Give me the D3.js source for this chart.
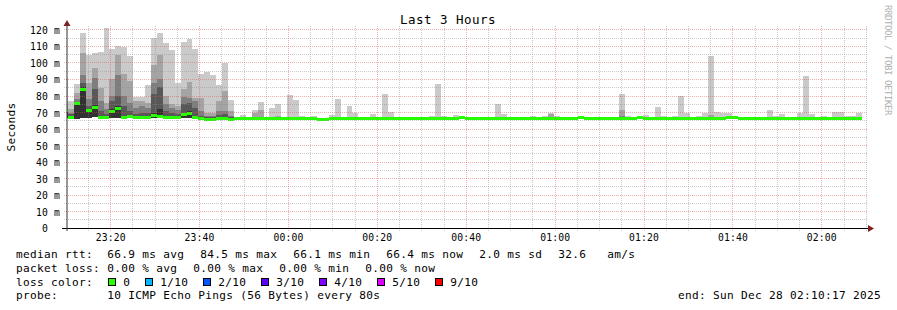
<!DOCTYPE html>
<html><head><meta charset="utf-8">
<script src="https://cdn.jsdelivr.net/npm/d3@7"></script>
<style>
html,body{margin:0;padding:0;background:#fff;}
svg{display:block;}
text{font-family:"DejaVu Sans Mono",monospace;fill:#000;white-space:pre;}
</style></head><body>
<svg id="chart" width="897" height="310"></svg>
<script>
const N = null;
const chartTitle = "Last 3 Hours";
const unitLabel = "Seconds";
const watermark = "RRDTOOL / TOBI OETIKER";
const yTickValues = [0,10,20,30,40,50,60,70,80,90,100,110,120];
const rangeStart = new Date(2025, 11, 27, 23, 10, 17);
const rangeEnd = new Date(2025, 11, 28, 2, 10, 17);
const firstStepStart = new Date(2025, 11, 27, 23, 9, 10, 500);
const stepSeconds = 80;

// median rtt per 80 s step (ms)
const medianRtt = [
71.5, 67, 75.5, 84.5, 71.5, 73.5, 67, 67, 71, 72.5,
67.5, 68, 67, 67, 67.3, 68.5, 68, 67.3, 67.3, 67,
69, 70, 67.3, 66.5, 66.3, 66.3, 66.5, 66.8, 66.3, 66.4,
66.4, 66.4, 66.5, 66.5, 66.4, 66.4, 66.5, 66.4, 66.4, 66.4,
66.4, 66.4, 66.4, 66.1, 66.3, 66.4, 66.4, 66.4, 66.4, 66.4,
66.5, 66.4, 66.4, 66.4, 66.4, 66.4, 66.4, 66.4, 66.4, 66.4,
66.4, 66.4, 66.4, 66.4, 66.4, 66.4, 66.6, 67, 66.6, 66.4,
66.4, 66.4, 66.4, 66.4, 66.4, 66.4, 66.4, 66.4, 66.4, 66.4,
66.4, 66.4, 66.6, 66.5, 66.4, 66.4, 66.4, 67.5, 66.4, 66.4,
66.4, 66.4, 66.4, 66.4, 66.5, 66.4, 66.4, 67.2, 66.5, 66.4,
66.4, 66.4, 66.4, 66.4, 66.4, 66.4, 66.4, 66.4, 66.4, 66.8,
66.5, 66.5, 67.5, 67, 66.6, 66.4, 66.4, 66.4, 66.4, 66.4,
66.4, 66.4, 66.4, 66.4, 66.4, 66.4, 66.4, 66.4, 66.4, 66.4,
66.4, 66.4, 66.4, 66.4, 66.4
];
// slowest ping per step
const maxRtt = [
91, 77, 87, 118, 105, 106, 106.5, 121, 108.5, 110.5,
109.5, 104.5, 79.5, 79.5, 86.5, 115, 118, 112, 108, 88,
112.5, 114.5, 108.5, 93.5, 94.5, 92.5, 86.5, 100, 77.5, 66.9,
68.5, 66.9, 71.5, 76.4, 66.9, 72.9, 75, 66.9, 80.6, 77.6,
67.9, 66.9, 67.9, 66.6, 66.9, 68.5, 78.1, 66.9, 73.9, 69.8,
67.5, 66.9, 69, 66.9, 81.2, 70.3, 66.9, 66.9, 66.9, 66.9,
66.9, 66.9, 67.9, 87.3, 67.9, 66.9, 68.5, 68, 67, 66.9,
66.9, 66.9, 67, 75.2, 69, 66.9, 66.9, 66.9, 66.9, 67.9,
66.9, 67.9, 70, 67.9, 67, 67, 66.9, 67.8, 66.9, 66.9,
66.9, 66.9, 66.9, 67, 81.2, 67.9, 66.9, 67.9, 68.5, 66.9,
73.5, 67.9, 66.9, 67.9, 80, 69.9, 66.9, 67.9, 70, 104.2,
70.5, 70, 70, 67.2, 67.2, 67.2, 66.9, 66.9, 66.9, 71.5,
67.9, 69, 66.9, 66.9, 70, 92, 69, 66.9, 67.9, 66.9,
70.5, 70.5, 67.9, 67.9, 70
];
// inner smoke bands (upper edges), null = not visible
const smoke2 = [
77, 72, 82, 106, 88, 97, 85, 76, 90, 105,
93.5, 89, 77, 77, 76, 98.5, 105, 80, 75, 74,
84, 88.5, 79, 79, 70, 70, 77, 83, 71, N,
N, N, 69.5, 71.5, N, N, 68, N, N, N,
N, N, N, N, N, N, N, N, N, N,
N, N, N, N, N, N, N, N, N, N,
N, N, N, 67.5, N, N, N, N, N, N,
N, N, N, N, N, N, N, N, N, N,
N, N, 69, 67.5, N, N, N, N, N, N,
N, N, N, N, 71.5, N, N, N, N, N,
N, N, N, N, 67.5, N, N, N, N, 68.5,
N, N, N, N, N, N, N, N, N, N,
N, N, N, N, N, N, N, N, N, N,
N, N, N, N, N
];
const smoke3 = [
73, 70, 78, 93, 78, 91, 77, 72, 80, 93,
80, 76, 73, 74, 73, 88, 90, 75, 72.5, 71.5,
79.5, 79, 77, 71, 68, 68, 71, 71, 68, N,
N, N, N, N, N, N, N, N, N, N,
N, N, N, N, N, N, N, N, N, N,
N, N, N, N, N, N, N, N, N, N,
N, N, N, N, N, N, N, N, N, N,
N, N, N, N, N, N, N, N, N, N,
N, N, N, N, N, N, N, N, N, N,
N, N, N, N, 68, N, N, N, N, N,
N, N, N, N, N, N, N, N, N, N,
N, N, N, N, N, N, N, N, N, N,
N, N, N, N, N, N, N, N, N, N,
N, N, N, N, N
];
const smoke4 = [
72, 69, 76, 88, 74, 84, 71, 69, 77, 80,
74, 71, 69, 70, 70, 81, 85.5, 71, 70, 69,
75, 76, 73, 68, 67, 67, 68.5, 69, 67
];
const smoke5 = [
72, 67.5, 75.5, 85.5, 72, 74.5, 67.5, 67.5, 72, 74,
68, 68.5, 67.5, 67.5, 67.5, 70, 72, 68, 68, 67.5,
70, 71, 68, 66.8, 66.5, 66.5, 66.8, 67, 66.5
];
// fastest ping per step
const minRtt = [
66.5, 66.3, 66.3, 66.8, 66.8, 67, 66.3, 66.3, 66.8, 66.8,
66.5, 66.5, 66.3, 66.3, 66.3, 66.5, 66.5, 66.3, 66.3, 66.3,
66.5, 66.5, 66.5, 66.2, 66.2, 66.2, 66.2, 66.2, 66.2, 66.1,
66.1, 66.1, 66.1, 66.1, 66.1, 66.1, 66.1, 66.1, 66.1, 66.1,
66.1, 66.1, 66.1, 66.1, 66.1, 66.1, 66.1, 66.1, 66.1, 66.1,
66.1, 66.1, 66.1, 66.1, 66.1, 66.1, 66.1, 66.1, 66.1, 66.1,
66.1, 66.1, 66.1, 66.1, 66.1, 66.1, 66.1, 66.1, 66.1, 66.1,
66.1, 66.1, 66.1, 66.1, 66.1, 66.1, 66.1, 66.1, 66.1, 66.1,
66.1, 66.1, 66.1, 66.1, 66.1, 66.1, 66.1, 66.1, 66.1, 66.1,
66.1, 66.1, 66.1, 66.1, 66.1, 66.1, 66.1, 66.1, 66.1, 66.1,
66.1, 66.1, 66.1, 66.1, 66.1, 66.1, 66.1, 66.1, 66.1, 66.1,
66.1, 66.1, 66.1, 66.1, 66.1, 66.1, 66.1, 66.1, 66.1, 66.1,
66.1, 66.1, 66.1, 66.1, 66.1, 66.1, 66.1, 66.1, 66.1, 66.1,
66.1, 66.1, 66.1, 66.1, 66.1
];

const medianStats = ["66.9 ms avg", "84.5 ms max", "66.1 ms min", "66.4 ms now", "2.0 ms sd", "32.6   am/s"];
const lossStats = ["0.00 % avg", "0.00 % max", "0.00 % min", "0.00 % now"];
const lossLabels = ["0", "1/10", "2/10", "3/10", "4/10", "5/10", "9/10"];
const lossColors = ["#26ff00", "#00b8ff", "#0059ff", "#5e00ff", "#7e00ff", "#dd00ff", "#ff0000"];
const probeText = "10 ICMP Echo Pings (56 Bytes) every 80s";
const endText = "end: Sun Dec 28 02:10:17 2025";

const svg = d3.select("#chart");
const plotLeft = 67, plotRight = 867, plotTop = 26, plotBottom = 228;
const x = d3.scaleTime().domain([rangeStart, rangeEnd]).range([plotLeft, plotRight]);
const y = d3.scaleLinear().domain([0, 120]).range([228.2, 29.9]);
const stepStart = i => new Date(+firstStepStart + i * stepSeconds * 1000);
const px = i => Math.round(Math.max(plotLeft, Math.min(plotRight, x(stepStart(i)))));

svg.append("defs").append("clipPath").attr("id", "plotclip")
  .append("rect").attr("x", plotLeft).attr("y", 0).attr("width", plotRight - plotLeft).attr("height", plotBottom);

const dataG = svg.append("g").attr("clip-path", "url(#plotclip)").attr("shape-rendering", "crispEdges");
const layers = [
  {values: maxRtt, color: "#cacaca"},
  {values: smoke2, color: "#a4a4a4"},
  {values: smoke3, color: "#7e7e7e"},
  {values: smoke4, color: "#585858"},
  {values: smoke5, color: "#323232"}
];
layers.forEach(L => {
  const idx = d3.range(medianRtt.length).filter(i => L.values[i] != null && L.values[i] > minRtt[i]);
  dataG.append("g").selectAll("rect").data(idx).join("rect")
    .attr("x", i => px(i))
    .attr("width", i => px(i + 1) - px(i))
    .attr("y", i => Math.round(y(L.values[i])))
    .attr("height", i => Math.max(1, Math.round(y(minRtt[i])) - Math.round(y(L.values[i]))))
    .attr("fill", L.color);
});
dataG.append("g").selectAll("rect").data(d3.range(medianRtt.length)).join("rect")
  .attr("x", i => px(i))
  .attr("width", i => px(i + 1) - px(i))
  .attr("y", i => Math.round(y(medianRtt[i])) - 1)
  .attr("height", 3)
  .attr("fill", lossColors[0]);

// grid (drawn over data like rrdtool)
const gridG = svg.append("g").attr("shape-rendering", "crispEdges").attr("fill", "none");
const minorY = d3.range(5, 121, 10);
const minorColor = "rgba(140,140,140,0.45)", majorColor = "rgba(222,80,80,0.45)";
gridG.selectAll("line.hminor").data(minorY).join("line")
  .attr("x1", 64).attr("x2", 868)
  .attr("y1", v => Math.floor(y(v)) + 0.5).attr("y2", v => Math.floor(y(v)) + 0.5)
  .attr("stroke", minorColor).attr("stroke-dasharray", "1,1");
gridG.selectAll("line.hmajor").data(yTickValues.slice(1)).join("line")
  .attr("x1", 64).attr("x2", 868)
  .attr("y1", v => Math.floor(y(v)) + 0.5).attr("y2", v => Math.floor(y(v)) + 0.5)
  .attr("stroke", majorColor).attr("stroke-dasharray", "1,1");
const majorT = d3.timeMinute.every(20).range(rangeStart, rangeEnd);
const minorT = d3.timeMinute.every(5).range(rangeStart, rangeEnd).filter(t => t.getMinutes() % 20 !== 0);
gridG.selectAll("line.vminor").data(minorT).join("line")
  .attr("x1", t => Math.round(x(t)) + 0.5).attr("x2", t => Math.round(x(t)) + 0.5)
  .attr("y1", plotTop).attr("y2", 231)
  .attr("stroke", minorColor).attr("stroke-dasharray", "1,1");
gridG.selectAll("line.vmajor").data(majorT).join("line")
  .attr("x1", t => Math.round(x(t)) + 0.5).attr("x2", t => Math.round(x(t)) + 0.5)
  .attr("y1", plotTop).attr("y2", 231)
  .attr("stroke", majorColor).attr("stroke-dasharray", "1,1");

// axes
const xAxis = d3.axisBottom(x).tickValues(majorT).tickFormat(d3.timeFormat("%H:%M")).tickSize(0);
const xg = svg.append("g").attr("transform", `translate(0,${plotBottom})`).call(xAxis);
xg.select(".domain").remove();
xg.selectAll("text").attr("y", 13).attr("dy", null)
  .style("font-size", "9.72px").style("letter-spacing", "0.15px").style("font-family", '"DejaVu Sans Mono",monospace');

const yAxis = d3.axisLeft(y).tickValues(yTickValues).tickFormat(v => v === 0 ? "0" : v + " m").tickSize(0);
const yg = svg.append("g").attr("transform", `translate(60,0)`).call(yAxis);
yg.select(".domain").remove();
yg.selectAll("text").attr("x", d => d === 0 ? -12 : 0).attr("dy", "0.36em")
  .style("font-size", "9.72px").style("letter-spacing", "0.15px").style("font-family", '"DejaVu Sans Mono",monospace');

svg.append("line").attr("x1", 62).attr("x2", 869).attr("y1", 228.5).attr("y2", 228.5)
  .attr("stroke", "#000").attr("shape-rendering", "crispEdges");
svg.append("line").attr("x1", 67).attr("x2", 67).attr("y1", 231).attr("y2", 25)
  .attr("stroke", "#333");
svg.append("path").attr("d", "M868,225L868,232L874,228.5Z").attr("fill", "#7f1f1f");
svg.append("path").attr("d", "M63.5,26L70.5,26L67,20Z").attr("fill", "#7f1f1f");

// titles
svg.append("text").attr("x", 448).attr("y", 24).attr("text-anchor", "middle")
  .style("font-size", "12.5px").style("letter-spacing", "0.47px").text(chartTitle);
svg.append("text").attr("transform", "translate(14.5,127) rotate(-90)").attr("text-anchor", "middle")
  .style("font-size", "11.1px").style("letter-spacing", "0.32px").text(unitLabel);
svg.append("text").attr("transform", "translate(884.5,60) rotate(90)").attr("text-anchor", "middle")
  .style("font-size", "9px").style("letter-spacing", "-0.42px").style("fill", "#b0b0b0").text(watermark);

// legend
const lg = svg.append("g").style("font-size", "11.1px").style("letter-spacing", "0.32px");
const base = [258.2, 272, 285.7, 299.4];
const charW = 7;
function row(label, items, yy) {
  lg.append("text").attr("x", 16).attr("y", yy).text(label);
  let xx = 107.3;
  items.forEach(s => {
    lg.append("text").attr("x", xx).attr("y", yy).text(s);
    xx += s.length * charW + 16;
  });
}
row("median rtt:", medianStats, base[0]);
row("packet loss:", lossStats, base[1]);
lg.append("text").attr("x", 16).attr("y", base[2]).text("loss color:");
let bx = 108.3;
lossLabels.forEach((lab, i) => {
  lg.append("rect").attr("x", Math.round(bx) + 0.5).attr("y", 278.5).attr("width", 7).attr("height", 7)
    .attr("fill", lossColors[i]).attr("stroke", "#000").attr("shape-rendering", "crispEdges");
  lg.append("text").attr("x", bx + 15).attr("y", base[2]).text(lab);
  bx = bx + 15 + lab.length * charW + 15;
});
lg.append("text").attr("x", 16).attr("y", base[3]).text("probe:");
lg.append("text").attr("x", 107.3).attr("y", base[3]).text(probeText);
lg.append("text").attr("x", 881).attr("y", base[3]).attr("text-anchor", "end").text(endText);
</script>
</body></html>
